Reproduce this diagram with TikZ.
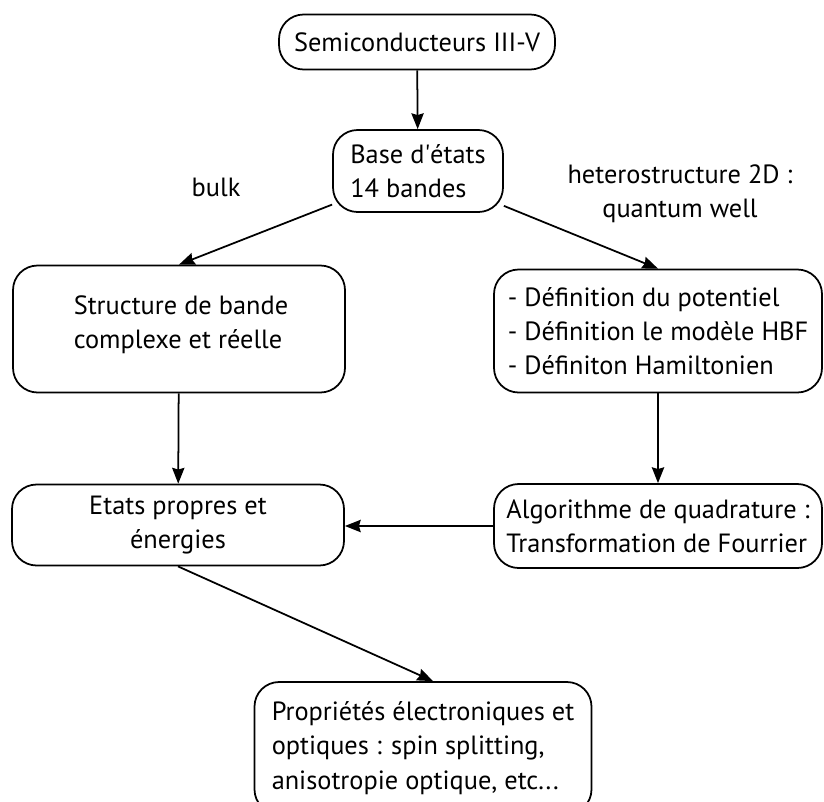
\documentclass[tikz,border=0pt]{standalone}
\usepackage{fontspec}
\setmainfont{PT Sans}
\usetikzlibrary{arrows.meta}
\tikzset{
    boite/.style={draw, line width=1pt, rounded corners=14pt, inner sep=0pt},
    fleche/.style={-{Stealth[length=9pt,width=7pt,inset=1pt]}, line width=1pt}
}
\begin{document}
\fontsize{15}{19.5}\selectfont
\begin{tikzpicture}[x=0.02cm, y=-0.02cm]
            \useasboundingbox (0, 0) rectangle (824, 801);
            \clip (0, 0) rectangle (824, 801);
            \node [boite, minimum width=276*0.02cm, minimum height=55*0.02cm] (semi) at (417, 42) {Semiconducteurs III-V};
            \node [boite, minimum width=170*0.02cm, minimum height=82*0.02cm, align=left] (base) at (418, 171) {Base d\textquotesingle\'etats\\14 bandes};
            \node (bulk) at (216, 187) {bulk};
            \node [align=center] (hetero) at (680, 194) {heterostructure 2D :\\quantum well};
            \node [boite, minimum width=332*0.02cm, minimum height=127*0.02cm] (struct) at (179, 329) {};
            \node [align=left] at (181, 325) {Structure de bande\\complexe et r\'eelle};
            \node [boite, minimum width=328*0.02cm, minimum height=123*0.02cm, align=left] (defs) at (658, 331) {- D\'efinition du potentiel\\- D\'efinition le mod\`ele HBF\\- D\'efiniton Hamiltonien};
            \node [boite, minimum width=332*0.02cm, minimum height=81*0.02cm, align=center] (etats) at (178, 525) {Etats propres et\\\'energies};
            \node [boite, minimum width=328*0.02cm, minimum height=84*0.02cm, align=left] (algo) at (658, 526) {Algorithme de quadrature :\\Transformation de Fourrier};
            \node [boite, minimum width=337*0.02cm, minimum height=132*0.02cm, align=left] (props) at (423, 748) {Propri\'et\'es \'electroniques et\\optiques : spin splitting,\\anisotropie optique, etc...};
            % fleches
            \draw [fleche] (semi) -- (base);
            \draw [fleche] (base) -- (struct.north);
            \draw [fleche] (base) -- (defs.north);
            \draw [fleche] (struct) -- (etats);
            \draw [fleche] (defs) -- (algo);
            \draw [fleche] (algo.west) -- (algo.west -| etats.east);
            \draw [fleche] (etats.south) -- ([xshift=10*0.02cm]props.north);
        \end{tikzpicture}
\end{document}
